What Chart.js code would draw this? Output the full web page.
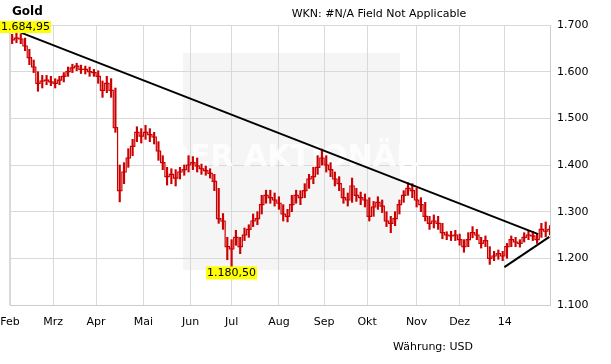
<!DOCTYPE html>
<html>
<head>
<meta charset="utf-8">
<script src="https://cdn.jsdelivr.net/npm/chart.js@4.4.0/dist/chart.umd.min.js"></script>
<style>
  html, body { margin: 0; padding: 0; background: #fff; }
  #wrap { width: 611px; height: 364px; position: relative; }
</style>
</head>
<body>
<div id="wrap"><canvas id="chartGold"></canvas></div>
<script>
// Gold, Feb 2013 - Jan 2014, one entry per two trading days
const closes = [
  1668, 1672, 1670, 1655, 1630, 1610, 1575, 1580, 1582, 1578,
  1575, 1582, 1590, 1600, 1608, 1612, 1605, 1605, 1600, 1598,
  1590, 1560, 1575, 1560, 1480, 1345, 1385, 1415, 1440, 1470,
  1462, 1470, 1465, 1460, 1430, 1405, 1375, 1380, 1372, 1385,
  1390, 1400, 1405, 1398, 1392, 1388, 1382, 1365, 1285, 1280,
  1225, 1220, 1245, 1225, 1250, 1262, 1280, 1285, 1315, 1335,
  1330, 1325, 1318, 1295, 1290, 1315, 1335, 1330, 1345, 1370,
  1375, 1395, 1415, 1400, 1390, 1370, 1360, 1330, 1325, 1355,
  1335, 1330, 1325, 1290, 1310, 1320, 1312, 1280, 1275, 1285,
  1315, 1335, 1350, 1345, 1325, 1315, 1290, 1275, 1280, 1275,
  1255, 1250, 1248, 1250, 1240, 1225, 1240, 1255, 1250, 1232,
  1238, 1200, 1205, 1210, 1205, 1225, 1240, 1235, 1232, 1245,
  1250, 1248, 1240, 1262, 1258, 1262
];
const highs = [
  1680, 1684.95, 1680, 1672, 1648, 1625, 1600, 1592, 1592, 1590,
  1585, 1590, 1598, 1610, 1616, 1618, 1614, 1612, 1610, 1605,
  1602, 1580, 1590, 1585, 1565, 1400, 1405, 1435, 1455, 1482,
  1478, 1485, 1478, 1470, 1450, 1420, 1395, 1392, 1390, 1395,
  1400, 1420, 1418, 1415, 1402, 1398, 1392, 1380, 1350, 1296,
  1245, 1240, 1260, 1245, 1265, 1272, 1295, 1300, 1335, 1346,
  1346, 1340, 1332, 1315, 1305, 1335, 1346, 1345, 1360, 1380,
  1395, 1420, 1434, 1420, 1405, 1385, 1375, 1350, 1340, 1372,
  1350, 1342, 1338, 1330, 1322, 1332, 1325, 1300, 1290, 1300,
  1325, 1345, 1362, 1360, 1350, 1330, 1320, 1290, 1293, 1290,
  1275, 1257, 1258, 1260, 1252, 1240, 1255, 1268, 1262, 1245,
  1248, 1225, 1215, 1218, 1215, 1232, 1248, 1245, 1240, 1255,
  1258, 1258, 1252, 1275, 1278, 1270
];
const lows = [
  1660, 1662, 1660, 1645, 1615, 1598, 1558, 1565, 1572, 1570,
  1565, 1572, 1578, 1590, 1598, 1602, 1596, 1595, 1590, 1590,
  1575, 1545, 1555, 1545, 1470, 1321, 1360, 1395, 1420, 1450,
  1447, 1455, 1450, 1445, 1410, 1390, 1357, 1360, 1355, 1370,
  1378, 1385, 1390, 1385, 1380, 1378, 1372, 1345, 1275, 1262,
  1197, 1180.5, 1228, 1210, 1238, 1245, 1268, 1272, 1295, 1318,
  1318, 1312, 1305, 1280, 1278, 1300, 1318, 1315, 1330, 1350,
  1360, 1380, 1400, 1385, 1375, 1355, 1345, 1318, 1312, 1320,
  1322, 1315, 1310, 1280, 1290, 1305, 1298, 1268, 1255, 1270,
  1295, 1320, 1335, 1330, 1310, 1300, 1280, 1262, 1265, 1262,
  1242, 1240, 1238, 1238, 1228, 1213, 1225, 1244, 1240, 1222,
  1225, 1187, 1195, 1198, 1195, 1200, 1225, 1225, 1224, 1235,
  1240, 1238, 1232, 1245, 1246, 1250
];

// trading-day index where each month starts
const monthStarts = [0, 20, 40, 62, 84, 103, 125, 146, 166, 189, 209, 230];
const monthLabels = ['Feb', 'Mrz', 'Apr', 'Mai', 'Jun', 'Jul', 'Aug', 'Sep', 'Okt', 'Nov', 'Dez', '14'];
const lastDay = 251;

const yTicks = [1100, 1200, 1300, 1400, 1500, 1600, 1700];

// Trendlinien
const trendDown = [{ x: 3.3, y: 1687 }, { x: 245.5, y: 1252 }];
const trendUp = [{ x: 229.8, y: 1181 }, { x: 250.7, y: 1246 }];

const RED = '#cc0000';
const FONT = '"DejaVu Sans", Verdana, sans-serif';

function fmtDe(v, dec) {
  const parts = v.toFixed(dec).split('.');
  const int = parts[0].replace(/\B(?=(\d{3})+(?!\d))/g, '.');
  return parts[1] ? int + ',' + parts[1] : int;
}

const dayX = i => i * 2 + 1;

const rangeData = highs.map((h, i) => ({ x: dayX(i), y: [lows[i], h] }));
const closeData = closes.map((c, i) => ({ x: dayX(i), y: c }));

const decoPlugin = {
  id: 'deco',
  beforeDraw(chart) {
    const c = chart.ctx;
    c.save();
    // Wasserzeichen-Feld
    c.fillStyle = '#f5f5f5';
    c.fillRect(183, 53, 217, 217);
    c.restore();
  },
  beforeDatasetsDraw(chart) {
    const c = chart.ctx;
    c.save();
    c.fillStyle = 'rgba(255,255,255,0.8)';
    c.font = 'bold 30px ' + FONT;
    c.textAlign = 'center';
    c.textBaseline = 'middle';
    c.fillText('DER AKTIONÄR', 292, 158);
    c.restore();
  },
  afterDraw(chart) {
    const c = chart.ctx;
    const xs = chart.scales.x;
    const ys = chart.scales.y;
    c.save();
    c.fillStyle = '#000';
    c.textBaseline = 'middle';

    c.font = 'bold 12px ' + FONT;
    c.textAlign = 'left';
    c.fillText('Gold', 12, 12);

    c.font = '11px ' + FONT;
    c.textAlign = 'center';
    c.fillText('WKN: #N/A Field Not Applicable', 379, 14);

    c.textAlign = 'left';
    c.fillText('Währung: USD', 393, 347);

    // Hoch / Tief markieren
    const maxVal = Math.max(...highs);
    const minVal = Math.min(...lows);
    const iMax = highs.indexOf(maxVal);
    const iMin = lows.indexOf(minVal);

    c.font = '11px ' + FONT;
    const hiText = fmtDe(maxVal, 2);
    const hiW = c.measureText(hiText).width + 2;
    let hx = xs.getPixelForValue(dayX(iMax)) - hiW / 2;
    if (hx < 0) hx = 0;
    const hy = ys.getPixelForValue(maxVal);
    c.fillStyle = '#ffff00';
    c.fillRect(hx, hy - 11, hiW, 12);
    c.fillStyle = '#000';
    c.fillText(hiText, hx + 1, hy - 4.5);

    const loText = fmtDe(minVal, 2);
    const loW = c.measureText(loText).width + 2;
    const lx = xs.getPixelForValue(dayX(iMin)) - loW / 2;
    const ly = ys.getPixelForValue(minVal);
    c.fillStyle = '#ffff00';
    c.fillRect(lx, ly - 1, loW, 13);
    c.fillStyle = '#000';
    c.fillText(loText, lx + 1, ly + 5.5);

    c.restore();
  }
};

new Chart(document.getElementById('chartGold'), {
  type: 'bar',
  data: {
    datasets: [
      {
        type: 'line',
        data: trendDown,
        borderColor: '#000',
        borderWidth: 2,
        pointRadius: 0,
        order: 0
      },
      {
        type: 'line',
        data: trendUp,
        borderColor: '#000',
        borderWidth: 2,
        pointRadius: 0,
        order: 0
      },
      {
        type: 'line',
        data: closeData,
        borderColor: RED,
        borderWidth: 1.2,
        pointRadius: 0,
        stepped: 'middle',
        order: 1
      },
      {
        type: 'bar',
        data: rangeData,
        backgroundColor: RED,
        barThickness: 1.5,
        order: 2
      }
    ]
  },
  options: {
    responsive: true,
    maintainAspectRatio: false,
    animation: false,
    layout: { padding: { left: 10, top: 25, right: 0, bottom: 0 } },
    plugins: {
      legend: { display: false },
      tooltip: { enabled: false }
    },
    scales: {
      x: {
        type: 'linear',
        min: 0,
        max: lastDay,
        offset: false,
        afterBuildTicks: scale => {
          scale.ticks = monthStarts.map(v => ({ value: v }));
        },
        afterFit: scale => {
          scale.height = 59;
          // Beschriftung darf ueber den Rand ragen
          scale.paddingLeft = 0;
          scale.paddingRight = 0;
        },
        grid: {
          offset: false,
          color: '#d9d9d9',
          lineWidth: c => (c.index === 0 ? 2 : 1),
          drawTicks: false
        },
        border: { display: true, color: '#cccccc' },
        ticks: {
          autoSkip: false,
          maxRotation: 0,
          padding: 11,
          color: '#000',
          font: { family: FONT, size: 11 },
          callback: value => {
            const i = monthStarts.indexOf(value);
            return i >= 0 ? monthLabels[i] : '';
          }
        }
      },
      y: {
        position: 'right',
        min: 1100,
        max: 1700,
        afterBuildTicks: scale => {
          scale.ticks = yTicks.map(v => ({ value: v }));
        },
        afterFit: scale => { scale.width = 61; },
        grid: { color: '#d9d9d9', drawTicks: false },
        border: { display: true, color: '#cccccc' },
        ticks: {
          padding: 7,
          color: '#000',
          font: { family: FONT, size: 11 },
          callback: value => fmtDe(value, 0)
        }
      }
    }
  },
  plugins: [decoPlugin]
});
</script>
</body>
</html>
